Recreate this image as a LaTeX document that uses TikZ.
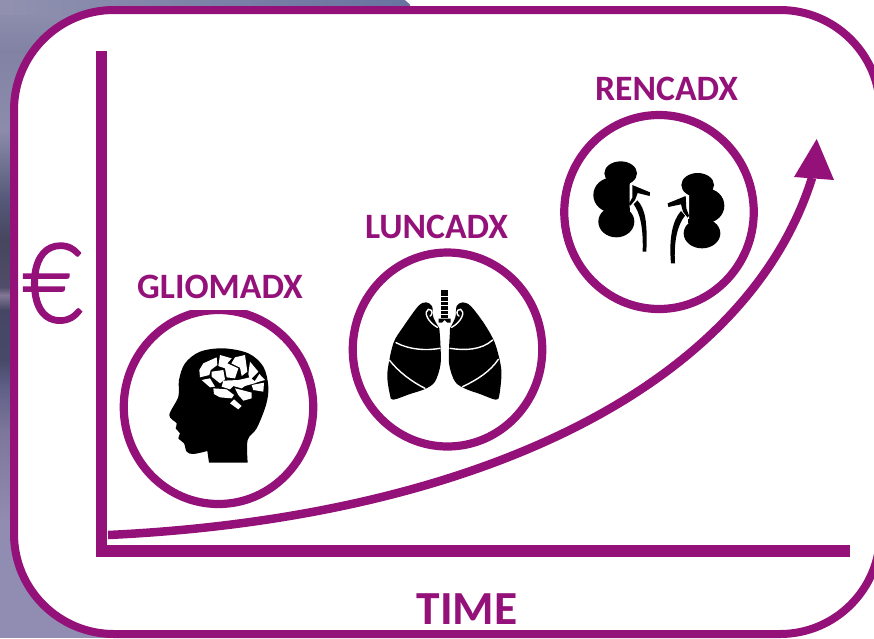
\documentclass[tikz,border=0pt]{standalone}
\usepackage{fontspec}
\usepackage{graphicx}
\setmainfont{Carlito}
\newfontfamily\eurofont[FakeBold=2]{Lato Light}
\usetikzlibrary{shapes.geometric}
\definecolor{plum}{RGB}{148,17,122}
\tikzset{
 x=1pt,y=-1pt,
 ring/.style={ellipse,draw=plum,line width=8.2pt,fill=white,inner sep=0pt,minimum width=189.5pt,minimum height=194pt},
 title/.style={font=\bfseries\fontsize{35.7}{36}\selectfont,text=plum,inner sep=0pt,anchor=base},
 axisline/.style={draw=none,fill=plum},
 organ/.style={fill=black,draw=none},
 gap/.style={fill=white,draw=none},
 gapline/.style={draw=white,line width=1.4pt,line cap=round}
}
\begin{document}
\begin{tikzpicture}
\useasboundingbox (0,0) rectangle (874,638);
\begin{scope}
\clip (0,0) rectangle (874,638);
% background photograph strip
\shade[top color={rgb,255:red,145;green,145;blue,175},bottom color={rgb,255:red,130;green,130;blue,165}] (0,0) rectangle (130,50);
\shade[top color={rgb,255:red,130;green,130;blue,165},bottom color={rgb,255:red,140;green,140;blue,170}] (0,50) rectangle (130,130);
\shade[top color={rgb,255:red,140;green,140;blue,170},bottom color={rgb,255:red,85;green,88;blue,120}] (0,130) rectangle (130,200);
\shade[top color={rgb,255:red,85;green,88;blue,120},bottom color={rgb,255:red,70;green,70;blue,95}] (0,200) rectangle (130,240);
\shade[top color={rgb,255:red,70;green,70;blue,95},bottom color={rgb,255:red,80;green,76;blue,105}] (0,240) rectangle (130,287);
\shade[top color={rgb,255:red,80;green,76;blue,105},bottom color={rgb,255:red,130;green,120;blue,150}] (0,287) rectangle (130,295);
\shade[top color={rgb,255:red,130;green,120;blue,150},bottom color={rgb,255:red,70;green,70;blue,100}] (0,295) rectangle (130,310);
\shade[top color={rgb,255:red,70;green,70;blue,100},bottom color={rgb,255:red,72;green,72;blue,105}] (0,310) rectangle (130,360);
\shade[top color={rgb,255:red,72;green,72;blue,105},bottom color={rgb,255:red,95;green,95;blue,135}] (0,360) rectangle (130,387);
\shade[top color={rgb,255:red,95;green,95;blue,135},bottom color={rgb,255:red,125;green,120;blue,155}] (0,387) rectangle (130,433);
\shade[top color={rgb,255:red,125;green,120;blue,155},bottom color={rgb,255:red,145;green,140;blue,175}] (0,433) rectangle (130,520);
\fill[color={rgb,255:red,145;green,140;blue,178}] (0,520) rectangle (130,638);
\shade[left color={rgb,255:red,145;green,145;blue,175},right color={rgb,255:red,105;green,115;blue,160}] (0,0) rectangle (410,14);
\fill[white] (405,0) -- (412,6) -- (412,0) -- cycle;
% panel
\draw[plum,line width=8pt,fill=white,rounded corners=100pt] (14,10) rectangle (880,634);
\end{scope}
% axes
\fill[axisline] (95.5,51) rectangle (107.3,556.7);
\fill[axisline] (95.5,545) rectangle (850,556.7);
% labels
\node[text=plum,inner sep=0pt,anchor=base] (euro) at (53,322) {\scalebox{0.94}[1]{\eurofont\fontsize{110}{110}\selectfont €}};
\node[title,font=\bfseries\fontsize{47.5}{48}\selectfont] (time) at (467,624) {TIME};
\node[title] (g) at (220,298) {GLIOMADX};
\node[title] (l) at (436.5,238) {LUNCADX};
\node[title] (r) at (666.5,100) {RENCADX};
% rings
\begin{scope}
\clip (100,310) rectangle (340,520);
\node[ring] (c1) at (218.5,407) {};
\end{scope}
\node[ring] (c2) at (447.5,349.5) {};
\node[ring] (c3) at (659,212) {};
% curve
\coordinate (cs) at (108,535);
\coordinate (ce) at (812,178);
\draw[plum,line width=8.5pt] (cs) .. controls (470,518) and (745,390) .. (ce);
\coordinate (tip) at (816.7,139);
\coordinate (hl) at (794,177);
\coordinate (hr) at (834,180);
\fill[plum] (tip) -- (hl) -- (hr) -- cycle;
% head
\begin{scope}[shift={(110,300)},scale=1/3]
\fill[organ] plot[smooth,tension=.55] coordinates {(413,488) (413,420) (440,385) (468,315) (475,260) (460,200) (415,160) (340,145) (270,155) (225,190) (207,240) (205,290) (178,345) (200,370) (197,385) (210,400) (205,415) (222,430) (230,455) (250,462) (292,453)} -- (297,488) -- cycle;
\fill[gap] (280,190)--(320,172)--(322,195)--(302,210)--(298,225)--(270,232)--(268,210)--cycle;
\fill[gap] (330,165)--(365,175)--(352,190)--(385,205)--(375,235)--(350,232)--(345,205)--(325,198)--cycle;
\fill[gap] (375,172)--(405,165)--(412,215)--(395,228)--(390,203)--(364,190)--cycle;
\fill[gap] (420,185)--(445,215)--(420,240)--(415,222)--cycle;
\fill[gap] (275,240)--(300,235)--(315,260)--(300,262)--cycle;
\fill[gap] (305,215)--(340,210)--(345,238)--(330,250)--(305,230)--cycle;
\fill[gap] (340,242)--(385,240)--(420,232)--(440,248)--(405,258)--(395,265)--(370,258)--(360,268)--(335,260)--cycle;
\fill[gap] (310,265)--(350,268)--(372,285)--(365,295)--(330,292)--(312,282)--cycle;
\fill[gap] (375,265)--(395,270)--(425,278)--(425,295)--(400,302)--(385,285)--cycle;
\fill[gap] (425,255)--(462,248)--(460,275)--(430,270)--cycle;
\fill[gap] (448,222)--(465,240)--(430,250)--cycle;
\fill[gap] (360,310)--(372,298)--(395,318)--(385,328)--cycle;
\end{scope}
% lungs
\begin{scope}[shift={(340,240)},scale=1/3]
\fill[organ] plot[smooth,tension=.5] coordinates {(300,290) (302,370) (285,425) (255,447) (210,462) (160,479) (150,465) (142,400) (160,310) (190,260) (235,198) (258,187) (276,198) (280,232) (298,265)} -- cycle;
\fill[organ] plot[smooth,tension=.5] coordinates {(329,290) (327,370) (345,425) (378,447) (420,462) (467,479) (478,465) (484,390) (465,310) (432,250) (392,198) (368,187) (350,198) (346,232) (330,265)} -- cycle;
\fill[organ] (302,150) rectangle (325,235);
\fill[organ] (296,236) -- (332,236) -- (332,248) -- (322,248) -- (314,240) -- (306,248) -- (296,248) -- cycle;
\foreach \yy in {168,182,196,210,223} \fill[gap] (302,\yy) rectangle (325,\yy+3);
\draw[gapline] (292,262) .. controls (262,245) and (250,215) .. (265,208) .. controls (280,208) and (278,225) .. (270,228);
\draw[gapline] (335,262) .. controls (365,245) and (377,215) .. (362,208) .. controls (347,208) and (349,225) .. (357,228);
\draw[gapline] (168,308) .. controls (210,330) and (260,332) .. (300,325);
\draw[gapline] (148,360) .. controls (175,395) and (215,425) .. (255,445);
\draw[gapline] (330,325) .. controls (375,332) and (425,330) .. (458,300);
\draw[gapline] (368,440) .. controls (410,420) and (450,395) .. (475,358);
\end{scope}
% kidneys
\begin{scope}[shift={(555,105)},scale=1/3]
\fill[organ] (197,205) ellipse [x radius=49,y radius=36];
\fill[organ] (170,270) ellipse [x radius=55,y radius=52];
\fill[organ] (184,350) ellipse [x radius=54,y radius=47];
\fill[organ] (170,225) rectangle (224,320);
\fill[organ] (428,240) ellipse [x radius=49,y radius=36];
\fill[organ] (453,302) ellipse [x radius=55,y radius=52];
\fill[organ] (441,385) ellipse [x radius=55,y radius=45];
\fill[organ] (398,262) rectangle (455,355);
% left pelvis and ureter
\fill[gap] (224,238) -- (232,240) -- (238,300) -- (224,308) -- cycle;
\fill[organ] (232,240) -- (285,262) -- (284,273) -- (248,264) -- (240,285) -- (226,302) -- (222,296) -- (232,278) -- cycle;
\fill[organ] (247,286) .. controls (270,310) and (278,350) .. (274,440) -- (263,440) .. controls (265,370) and (256,325) .. (236,298) -- cycle;
% right pelvis and ureter
\fill[gap] (402,270) -- (392,272) -- (387,338) -- (402,342) -- cycle;
\fill[organ] (392,273) -- (338,295) -- (340,306) -- (378,298) -- (384,320) -- (398,338) -- (402,332) -- (394,310) -- cycle;
\fill[organ] (378,318) .. controls (353,345) and (341,400) .. (348,475) -- (360,475) .. controls (356,410) and (367,360) .. (390,332) -- cycle;
\end{scope}
\end{tikzpicture}
\end{document}
